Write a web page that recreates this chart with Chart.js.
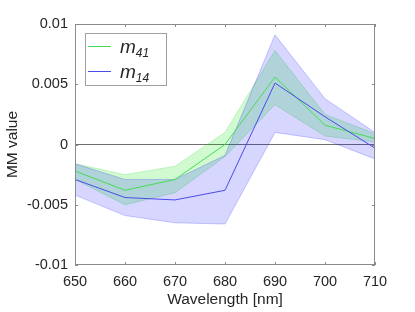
<!DOCTYPE html>
<html><head><meta charset="utf-8">
<script src="https://cdn.jsdelivr.net/npm/chart.js@4/dist/chart.umd.min.js"></script>
<style>html,body{margin:0;padding:0;background:#fff}#wrap{width:415px;height:312px;position:relative}</style>
</head><body><div id="wrap"><canvas id="c" width="415" height="312"></canvas></div>
<script>
const wavelengths = [650, 660, 670, 680, 690, 700, 710];
const m41 = [-0.0022, -0.0038, -0.0029, 0.0000, 0.0056, 0.0016, 0.0005];
const m41Upper = [-0.0016, -0.0025, -0.0018, 0.0010, 0.0078, 0.0025, 0.0009];
const m41Lower = [-0.0029, -0.0050, -0.0040, -0.0010, 0.0033, 0.0007, 0.0002];
const m14 = [-0.0029, -0.0044, -0.0046, -0.0038, 0.0051, 0.0023, -0.0003];
const m14Upper = [-0.0016, -0.0029, -0.0029, -0.0009, 0.0091, 0.0038, 0.0010];
const m14Lower = [-0.0042, -0.0059, -0.0065, -0.0066, 0.0010, 0.0004, -0.0012];
const seriesBase = ['m', 'm'];
const seriesSub = ['41', '14'];
const xTickValues = [650, 660, 670, 680, 690, 700, 710];
const xTickLabels = ['650', '660', '670', '680', '690', '700', '710'];
const yTickValues = [-0.01, -0.005, 0, 0.005, 0.01];
const yTickLabels = ['-0.01', '-0.005', '0', '0.005', '0.01'];

const GREEN = '#45dc55';
const BLUE = '#4b4be8';
const GREEN_FILL = 'rgba(0,230,0,0.18)';
const BLUE_FILL = 'rgba(0,0,255,0.16)';
const GREEN_EDGE = 'rgba(0,200,0,0.25)';
const BLUE_EDGE = 'rgba(0,0,255,0.25)';
const AXIS = '#8a8a8a';
const TEXT = '#262626';
const FONT = "'Liberation Sans', Arial, sans-serif";

const pts = arr => arr.map((v, i) => ({x: wavelengths[i], y: v}));
const band = {pointRadius: 0, borderWidth: 0.8, tension: 0};

const frame = {
  id: 'frame',
  afterDraw(chart) {
    const {ctx, chartArea: a, scales} = chart;
    ctx.save();
    ctx.strokeStyle = AXIS;
    ctx.lineWidth = 1;
    ctx.strokeRect(a.left + 0.5, a.top + 0.5, a.right - a.left - 1, a.bottom - a.top - 1);
    const L = 3;
    ctx.beginPath();
    xTickValues.forEach(v => {
      const x = Math.round(scales.x.getPixelForValue(v)) + 0.5;
      ctx.moveTo(x, a.bottom); ctx.lineTo(x, a.bottom - L);
      ctx.moveTo(x, a.top); ctx.lineTo(x, a.top + L);
    });
    yTickValues.forEach(v => {
      const y = Math.round(scales.y.getPixelForValue(v)) + 0.5;
      ctx.moveTo(a.left, y); ctx.lineTo(a.left + L, y);
      ctx.moveTo(a.right, y); ctx.lineTo(a.right - L, y);
    });
    ctx.stroke();
    // legend
    const bx = 85.5, by = 33.5, bw = 81, bh = 52;
    ctx.fillStyle = '#fff';
    ctx.fillRect(bx, by, bw, bh);
    ctx.strokeStyle = '#a0a0a0';
    ctx.strokeRect(bx, by, bw, bh);
    const colors = [GREEN, BLUE];
    [46, 71].forEach((yy, i) => {
      ctx.strokeStyle = colors[i];
      ctx.lineWidth = 1;
      ctx.beginPath();
      ctx.moveTo(88, yy + 0.5); ctx.lineTo(111, yy + 0.5);
      ctx.stroke();
      ctx.fillStyle = TEXT;
      ctx.textBaseline = 'alphabetic';
      ctx.textAlign = 'left';
      ctx.font = "italic 19px " + FONT;
      ctx.fillText(seriesBase[i], 120, yy + 7);
      const w = ctx.measureText(seriesBase[i]).width;
      ctx.font = "italic 12px " + FONT;
      ctx.fillText(seriesSub[i], 120 + w, yy + 10.5);
    });
    ctx.restore();
  }
};

new Chart(document.getElementById('c'), {
  type: 'line',
  data: {
    datasets: [
      Object.assign({label: 'm41 upper', data: pts(m41Upper), fill: '+1', backgroundColor: GREEN_FILL, borderColor: GREEN_EDGE, order: 5}, band),
      Object.assign({label: 'm41 lower', data: pts(m41Lower), fill: false, borderColor: GREEN_EDGE, order: 4}, band),
      Object.assign({label: 'm14 upper', data: pts(m14Upper), fill: '+1', backgroundColor: BLUE_FILL, borderColor: BLUE_EDGE, order: 3}, band),
      Object.assign({label: 'm14 lower', data: pts(m14Lower), fill: false, borderColor: BLUE_EDGE, order: 2}, band),
      {label: 'm41', data: pts(m41), borderColor: GREEN, borderWidth: 1, pointRadius: 0, fill: false, tension: 0, order: 1},
      {label: 'm14', data: pts(m14), borderColor: BLUE, borderWidth: 1, pointRadius: 0, fill: false, tension: 0, order: 0}
    ]
  },
  options: {
    responsive: false,
    animation: false,
    devicePixelRatio: 1,
    layout: {padding: {top: 24, right: 40, left: 0, bottom: 0}},
    plugins: {legend: {display: false}, tooltip: {enabled: false}},
    scales: {
      x: {
        type: 'linear', min: 650, max: 710,
        afterBuildTicks: s => { s.ticks = xTickValues.map(v => ({value: v})); },
        afterFit: s => { s.height = 47; },
        ticks: {
          padding: 8, color: TEXT, font: {family: FONT, size: 14.5},
          callback: v => xTickLabels[xTickValues.indexOf(v)], maxRotation: 0, autoSkip: false
        },
        grid: {display: true, drawOnChartArea: false, drawTicks: false},
        border: {display: false},
        title: {display: true, text: 'Wavelength [nm]', color: TEXT, font: {family: FONT, size: 15.5}, padding: {top: 0, bottom: 2.5}}
      },
      y: {
        type: 'linear', min: -0.01, max: 0.01,
        afterBuildTicks: s => { s.ticks = yTickValues.map(v => ({value: v})); },
        afterFit: s => { s.width = 75; },
        ticks: {
          padding: 7, color: TEXT, font: {family: FONT, size: 14.5},
          callback: (v, i) => yTickLabels[i]
        },
        grid: {
          display: true, drawOnChartArea: true, drawTicks: false, lineWidth: 1,
          color: c => (c.tick && c.tick.value === 0) ? '#6e6e6e' : 'rgba(0,0,0,0)'
        },
        border: {display: false},
        title: {display: true, text: 'MM value', color: TEXT, font: {family: FONT, size: 15.5}, padding: {top: 3, bottom: 0}}
      }
    }
  },
  plugins: [frame]
});
</script>
</body></html>
